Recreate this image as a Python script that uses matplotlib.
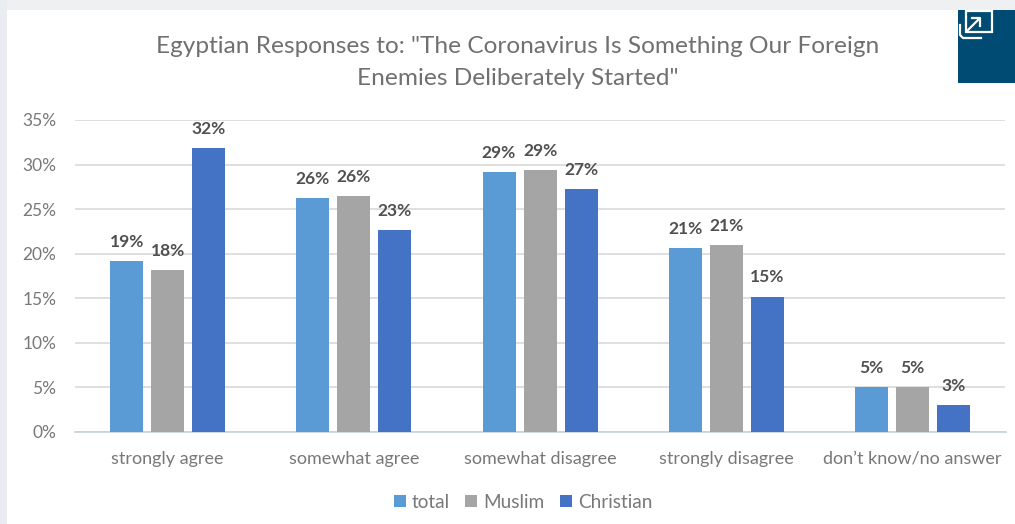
import matplotlib
matplotlib.use("Agg")
import matplotlib.pyplot as plt
import numpy as np
from matplotlib.patches import Rectangle
from matplotlib.lines import Line2D

plt.rcParams['font.family'] = ['Lato', 'DejaVu Sans']

categories = ["strongly agree", "somewhat agree", "somewhat disagree", "strongly disagree", "don’t know/no answer"]
total = [19.2, 26.2, 29.2, 20.6, 5.0]
muslim = [18.2, 26.5, 29.4, 21.0, 5.0]
christian = [31.9, 22.7, 27.3, 15.2, 3.0]
total_labels = ["19%", "26%", "29%", "21%", "5%"]
muslim_labels = ["18%", "26%", "29%", "21%", "5%"]
christian_labels = ["32%", "23%", "27%", "15%", "3%"]
yticks = [0, 5, 10, 15, 20, 25, 30, 35]
title = 'Egyptian Responses to: "The Coronavirus Is Something Our Foreign\nEnemies Deliberately Started"'

W, H = 1015, 524
fig = plt.figure(figsize=(W/100, H/100), dpi=100, facecolor='white')

# page frame behind the chart
fig.patches.append(Rectangle((0, 1-10/H), 1, 10/H, transform=fig.transFigure, facecolor='#eef0f2', edgecolor='none'))
fig.patches.append(Rectangle((0, 0), 7/W, 1, transform=fig.transFigure, facecolor='#e9edf1', edgecolor='none'))
fig.patches.append(Rectangle((958/W, 1-83/H), 57/W, 73/H, transform=fig.transFigure, facecolor='#004b73', edgecolor='none'))

ax = fig.add_axes([74.5/W, 1-432/H, 931/W, 312/H])
ax.set_facecolor('none')
x = np.arange(len(categories))
bw = 33/186.2
off = 41/186.2
series = [(total, total_labels, '#5b9bd5', 'total', -off),
          (muslim, muslim_labels, '#a5a5a5', 'Muslim', 0),
          (christian, christian_labels, '#4472c4', 'Christian', off)]
for vals, labs, c, name, o in series:
    ax.bar(x+o, vals, bw, color=c, label=name, zorder=3)
    for xi, v, l in zip(x+o, vals, labs):
        ax.annotate(l, (xi, v), xytext=(0, 8), textcoords='offset points', ha='center', va='bottom',
                    fontsize=12.5, fontweight='bold', color='#505050', zorder=4)

ax.set_xlim(-0.5, 4.5)
ax.set_ylim(0, 35)
ax.set_yticks(yticks)
ax.set_yticklabels([f"{t}%" for t in yticks], fontsize=12.5, color='#787878')
ax.set_xticks(x)
ax.set_xticklabels(categories, fontsize=13, color='#787878')
ax.tick_params(length=0)
ax.tick_params(axis='y', pad=13)
ax.tick_params(axis='x', pad=13.5)
ax.grid(axis='y', color='#d9d9d9', lw=1.2, zorder=0)
ax.set_axisbelow(True)
for s in ['top', 'right', 'left']:
    ax.spines[s].set_visible(False)
ax.spines['bottom'].set_color('#c8d0d8')
ax.spines['bottom'].set_linewidth(1.2)

fig.text(518/W, 1-62.5/H, title, ha='center', va='center', fontsize=17.6, color='#707070', linespacing=1.6)

leg = ax.legend(loc='center', bbox_to_anchor=(523/W, 1-502/H), bbox_transform=fig.transFigure, ncol=3, frameon=False,
                fontsize=13.7, handlelength=0.62, handleheight=0.62, handletextpad=0.33, columnspacing=0.8,
                labelcolor='#787878')

# expand icon
icon = '#ffffff'
fig.add_artist(Rectangle((966/W, 1-32/H), 26/W, 21/H, transform=fig.transFigure, fill=False, edgecolor=icon, lw=1.6, zorder=5))
fig.add_artist(Line2D([960/W, 960/W, 963/W, 981/W], [1-25/H, 1-35/H, 1-38/H, 1-38/H], color=icon, lw=1.6, transform=fig.transFigure, zorder=5))
fig.add_artist(Line2D([968/W, 979/W], [1-30/H, 1-19/H], color=icon, lw=1.6, transform=fig.transFigure, zorder=5))
fig.add_artist(Line2D([972/W, 980/W, 980/W], [1-18/H, 1-18/H, 1-26/H], color=icon, lw=1.6, transform=fig.transFigure, zorder=5))

fig.savefig('out.png', dpi=100, facecolor='white')
